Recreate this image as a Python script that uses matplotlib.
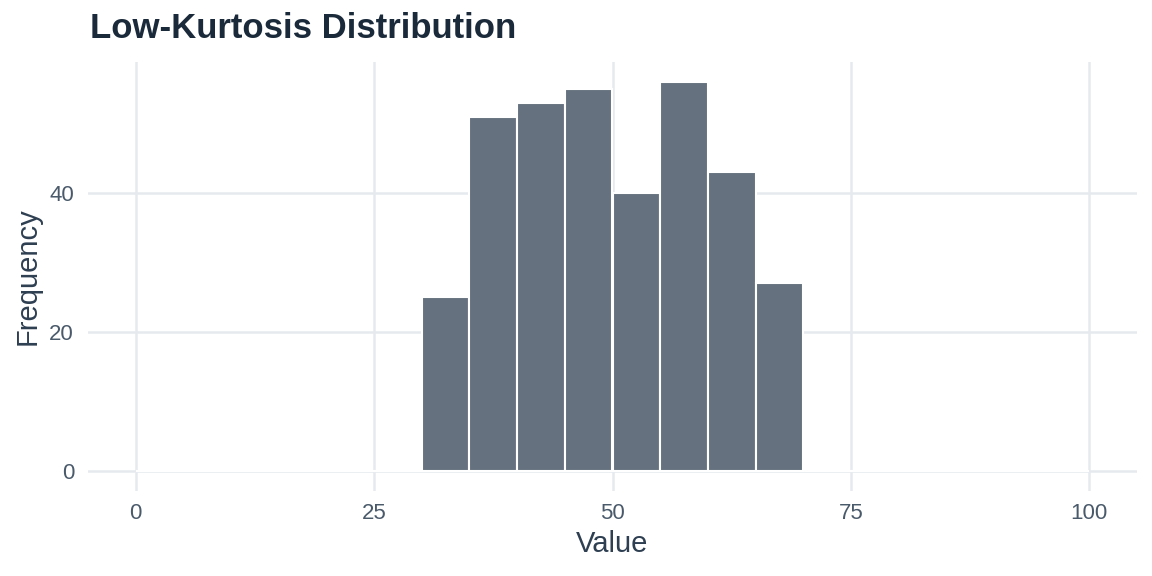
import matplotlib
matplotlib.use("Agg")
import matplotlib.pyplot as plt
import numpy as np

bin_edges = list(range(0, 105, 5))
counts = [0, 0, 0, 0, 0, 0, 25, 51, 53, 55, 40, 56, 43, 27, 0, 0, 0, 0, 0, 0]
x_ticks = [0, 25, 50, 75, 100]
y_ticks = [0, 20, 40]

plt.rcParams['font.family'] = ['Liberation Sans', 'DejaVu Sans']

fig = plt.figure(figsize=(11.52, 5.76), dpi=100)
ax = fig.add_axes([88/1152, 1-490.5/576, (1137-88)/1152, (490.5-62.3)/576])

grid_c = '#e6eaef'
for xv in x_ticks:
    ax.axvline(xv, color=grid_c, lw=1.8, zorder=0)
for yv in y_ticks:
    ax.axhline(yv, color=grid_c, lw=1.8, zorder=0)

lefts = np.array(bin_edges[:-1])
widths = np.diff(bin_edges)
ax.bar(lefts, counts, width=widths, align='edge', color='#65717e',
       edgecolor='white', linewidth=1.5, zorder=2)

ax.set_xlim(-5, 105)
ax.set_ylim(-2.8, 58.8)
ax.set_xticks(x_ticks)
ax.set_yticks(y_ticks)
for s in ax.spines.values():
    s.set_visible(False)
ax.tick_params(axis='both', length=0, labelsize=16, labelcolor='#4a5a6b')
ax.tick_params(axis='x', pad=9)
ax.tick_params(axis='y', pad=10)
ax.set_xlabel('Value', fontsize=21, color='#2e3f52', labelpad=4.5)
ax.set_ylabel('Frequency', fontsize=21, color='#2e3f52', labelpad=5.5)
fig.text(90/1152, 1-28/576, 'Low-Kurtosis Distribution', fontsize=25, fontweight='bold',
         color='#1b2a3a', ha='left', va='center')

fig.savefig('out.png', dpi=100, facecolor='white')
